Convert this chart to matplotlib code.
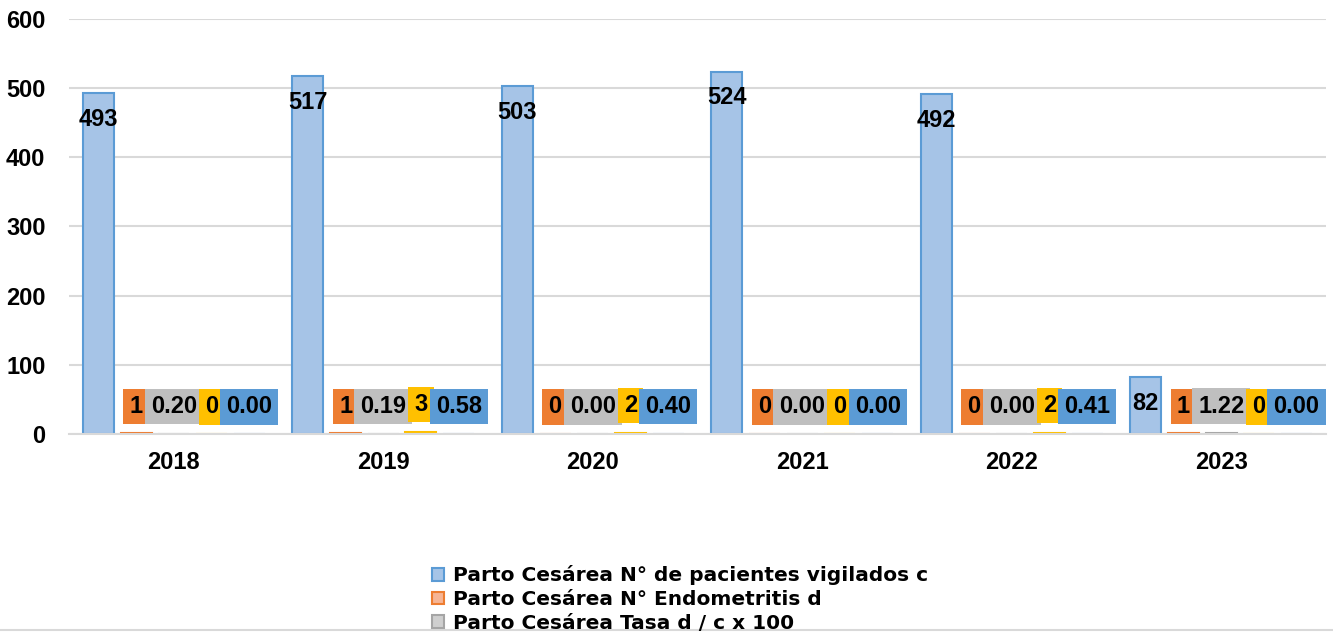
import numpy as np
import matplotlib.pyplot as plt
from matplotlib.patches import Patch
from matplotlib.lines import Line2D

plt.rcParams['font.family'] = ['Liberation Sans', 'DejaVu Sans']
plt.rcParams['font.weight'] = 'bold'

years = ['2018', '2019', '2020', '2021', '2022', '2023']
vigilados_c = [493, 517, 503, 524, 492, 82]
endometritis_d = [1, 1, 0, 0, 0, 1]
tasa_dc = [0.20, 0.19, 0.00, 0.00, 0.00, 1.22]
serie4 = [0, 3, 2, 0, 2, 0]
serie5 = [0.00, 0.58, 0.40, 0.00, 0.41, 0.00]

names = ['Parto Cesárea N° de pacientes vigilados c',
         'Parto Cesárea N° Endometritis d',
         'Parto Cesárea Tasa d / c x 100',
         'Serie 4', 'Serie 5']
series = [vigilados_c, endometritis_d, tasa_dc, serie4, serie5]
fills = ['#A6C4E7', '#F6B595', '#CFCFCF', '#FFE08A', '#9DBFE6']
edges = ['#5B9BD5', '#ED7D31', '#A5A5A5', '#FFC000', '#5B9BD5']
label_bg = [None, '#ED7D31', '#BFBFBF', '#FFC000', '#5B9BD5']
fmts = ['{:.0f}', '{:.0f}', '{:.2f}', '{:.0f}', '{:.2f}']

fig = plt.figure(figsize=(13.33, 6.32), dpi=100)
ax = fig.add_axes([0.0518, 0.3133, 0.9429, 0.6567])

x = np.arange(len(years))
pitch = 0.18
width = 0.148

for i, (vals, name) in enumerate(zip(series, names)):
    pos = x + (i - 2) * pitch
    bars = ax.bar(pos, vals, width, color=fills[i], edgecolor=edges[i],
                  linewidth=1.5, label=name, zorder=2)
    for b, v in zip(bars, vals):
        txt = fmts[i].format(v)
        cx = b.get_x() + b.get_width() / 2
        if label_bg[i] is None:
            ax.annotate(txt, (cx, v), xytext=(0, -19), textcoords='offset points',
                        ha='center', va='center', fontsize=17, fontweight='bold',
                        color='black', zorder=5)
        else:
            ax.annotate(txt, (cx, v), xytext=(0, 19.5), textcoords='offset points',
                        ha='center', va='center', fontsize=17, fontweight='bold',
                        color='black', zorder=5 + i,
                        bbox=dict(boxstyle='square,pad=0.26', fc=label_bg[i], ec='none'))

ax.set_xlim(-0.5, len(years) - 0.5)
ax.set_ylim(0, 600)
ax.set_yticks(np.arange(0, 601, 100))
ax.set_xticks(x)
ax.set_xticklabels(years)
ax.grid(axis='y', color='#D9D9D9', linewidth=1.5, zorder=0)
ax.set_axisbelow(True)
for s in ['top', 'right', 'left']:
    ax.spines[s].set_visible(False)
ax.spines['bottom'].set_color('#D9D9D9')
ax.spines['bottom'].set_linewidth(1.5)
ax.tick_params(axis='both', length=0, labelsize=17)
ax.tick_params(axis='y', pad=17)
ax.tick_params(axis='x', pad=12)
for lab in ax.get_xticklabels() + ax.get_yticklabels():
    lab.set_fontweight('bold')

handles = [Patch(facecolor=fills[i], edgecolor=edges[i], linewidth=1.5) for i in range(3)]
fig.legend(handles, names[:3], loc='center left', bbox_to_anchor=(0.324, 0.052),
           frameon=False, handlelength=0.6, handleheight=0.6,
           handletextpad=0.45, labelspacing=0.24, borderpad=0, borderaxespad=0,
           prop={'family': 'DejaVu Sans', 'weight': 'bold', 'size': 14.5})

fig.add_artist(Line2D([0, 1], [0.003, 0.003], color='#D9D9D9', linewidth=1.5))

fig.savefig('out.png', dpi=100)
